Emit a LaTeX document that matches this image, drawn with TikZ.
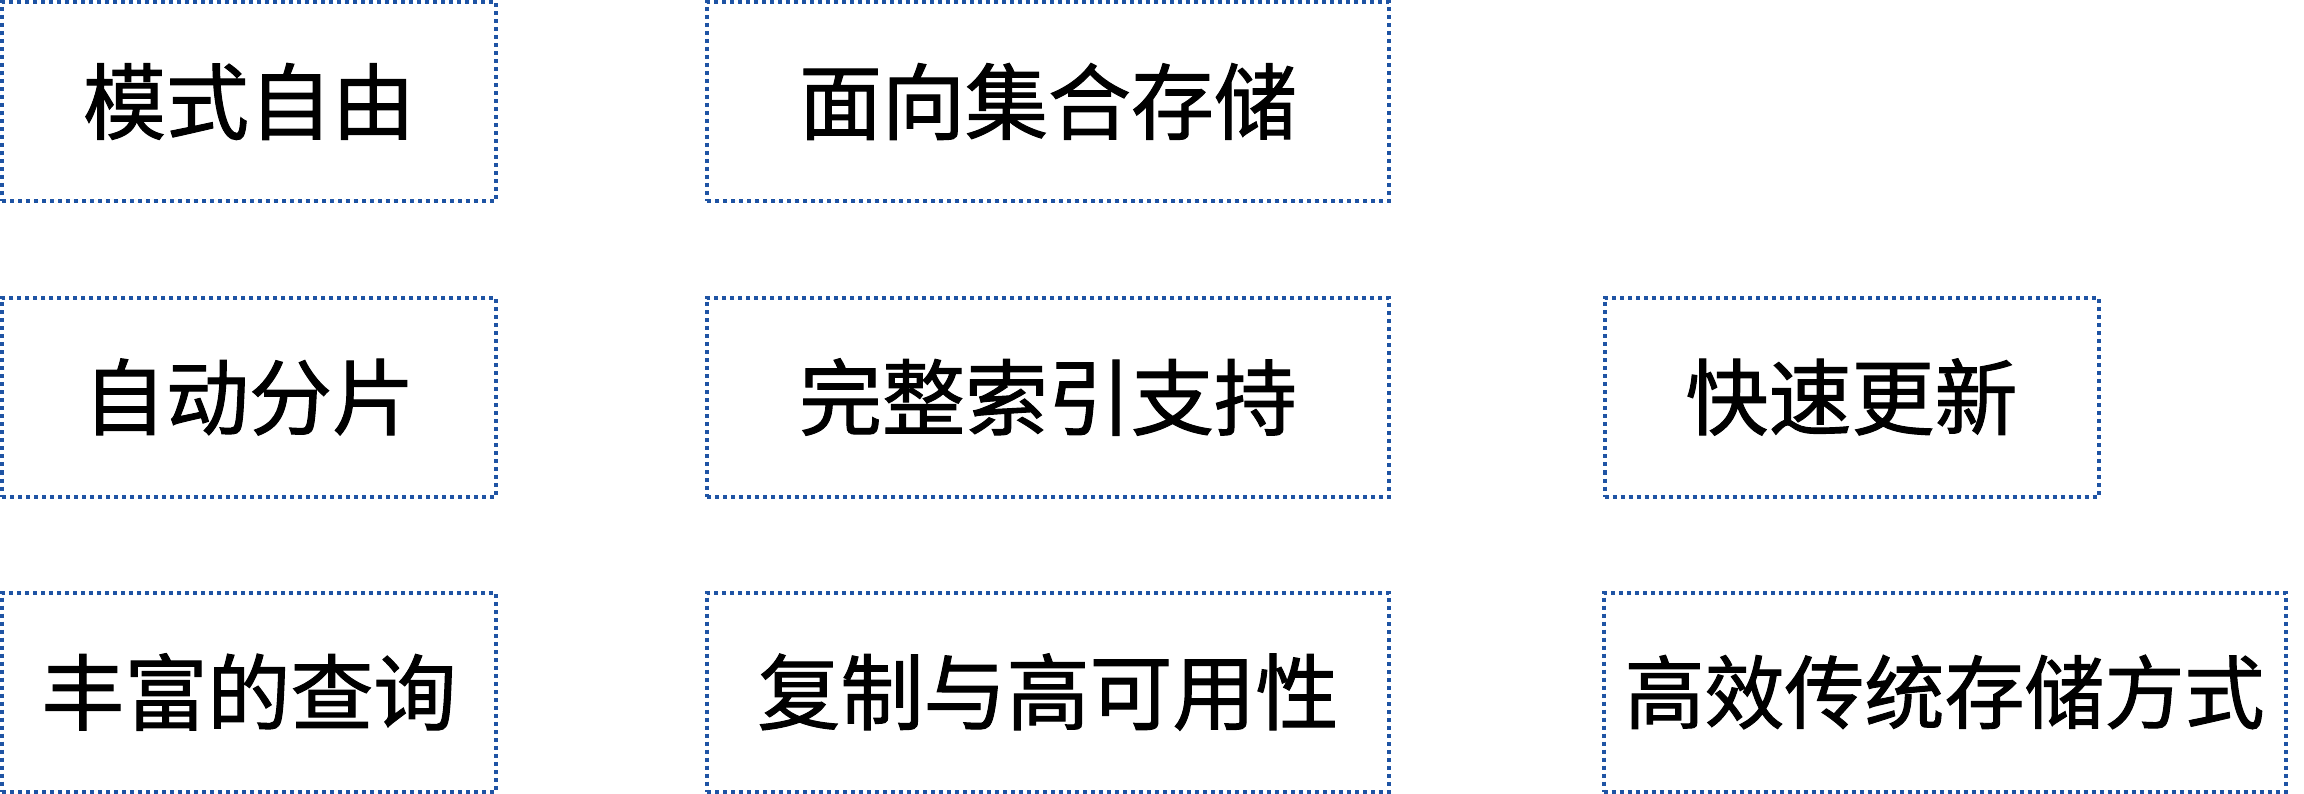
\documentclass[tikz,border=0pt]{standalone}
\usepackage{fontspec}
\newfontfamily\cjk[FakeBold=1.2]{Noto Sans CJK SC}
\definecolor{dotblue}{RGB}{31,84,164}
\begin{document}
\begin{tikzpicture}[x=1pt,y=-1pt,
  feat/.style={draw=dotblue, line width=4pt, dash pattern=on 4pt off 4pt,
    rectangle, inner sep=0pt, minimum height=199pt,
    font=\cjk\fontsize{83}{96}\selectfont, text=black},
  narrow/.style={feat, minimum width=494pt},
  wide/.style={feat, minimum width=682pt}]
\useasboundingbox (0,0) rectangle (2304,794);
\node[narrow] (a1) at (249,101.5) {模式自由};
\node[wide]   (b1) at (1048,101.5) {面向集合存储};
\node[narrow] (a2) at (249,397) {自动分片};
\node[wide]   (b2) at (1048,397) {完整索引支持};
\node[narrow] (c2) at (1851.5,397) {快速更新};
\node[narrow] (a3) at (249,692) {丰富的查询};
\node[wide]   (b3) at (1048,692) {复制与高可用性};
\node[wide]   (c3) at (1944.5,692) {\fontsize{80}{96}\selectfont 高效传统存储方式};
\end{tikzpicture}
\end{document}
